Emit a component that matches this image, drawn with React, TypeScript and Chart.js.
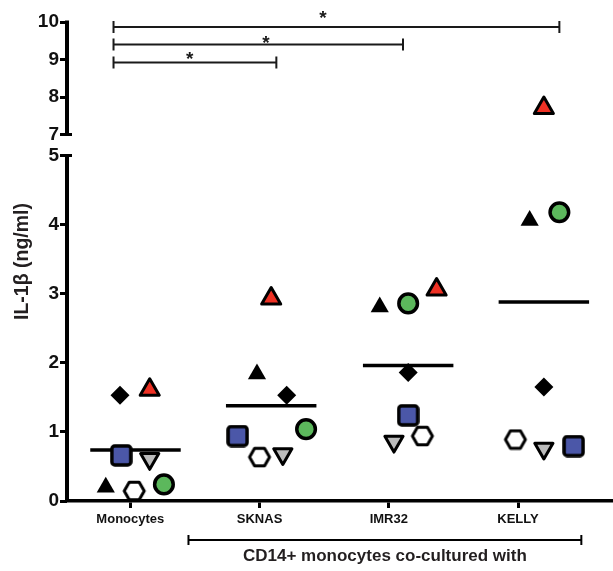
import React, { useEffect, useRef } from 'react';
import { Chart, registerables, LinearScale } from 'chart.js';

Chart.register(...registerables);

// ---------- data ----------
const categories = ['Monocytes', 'SKNAS', 'IMR32', 'KELLY'];
const yTickValues = [0, 1, 2, 3, 4, 5, 7, 8, 9, 10];
const yBreakLow = 5;
const yBreakHigh = 7;
const yMax = 10;

const blackTriangle = [0.2, 1.84, 2.81, 4.06];
const blackTriangleJitter = [-0.19, -0.02, -0.07, 0.09];
const blackDiamond = [1.53, 1.53, 1.86, 1.65];
const blackDiamondJitter = [-0.08, 0.21, 0.15, 0.2];
const redTriangle = [1.61, 2.93, 3.06, 7.71];
const redTriangleJitter = [0.15, 0.09, 0.37, 0.2];
const blueSquare = [0.66, 0.94, 1.24, 0.795];
const blueSquareJitter = [-0.07, -0.17, 0.15, 0.43];
const grayTriangleDown = [0.61, 0.68, 0.86, 0.76];
const grayTriangleDownJitter = [0.15, 0.18, 0.04, 0.2];
const openHexagon = [0.145, 0.636, 0.94, 0.89];
const openHexagonJitter = [0.03, 0.0, 0.26, -0.02];
const greenCircle = [0.24, 1.04, 2.86, 4.18];
const greenCircleJitter = [0.26, 0.36, 0.15, 0.32];

const means = [0.74, 1.38, 1.96, 2.88];
const meanCenterOffset = [0.04, 0.09, 0.15, 0.2];
const meanHalfWidth = 0.35;

const sigFrom = [-0.13, -0.13, -0.13];
const sigTo = [1.13, 2.11, 3.32];
const sigLevel = [8.92, 9.4, 9.87];
const sigStarX = [0.46, 1.05, 1.49];
const sigStarLevel = [9.1, 9.53, 10.19];
const sigLabels = ['*', '*', '*'];

const groupFrom = 0.45;
const groupTo = 3.49;
const groupLabel = 'CD14+ monocytes co-cultured with';
const yTitle = 'IL-1\u03b2 (ng/ml)';

// ---------- broken y scale ----------
const GAP_UNITS = 0.3035;
const UPPER_RATIO = 0.5434;
function compress(v: number): number {
  if (v <= yBreakLow) return v;
  if (v >= yBreakHigh) return yBreakLow + GAP_UNITS + (v - yBreakHigh) * UPPER_RATIO;
  return yBreakLow + ((v - yBreakLow) / (yBreakHigh - yBreakLow)) * GAP_UNITS;
}
function expand(c: number): number {
  if (c <= yBreakLow) return c;
  if (c >= yBreakLow + GAP_UNITS) return yBreakHigh + (c - yBreakLow - GAP_UNITS) / UPPER_RATIO;
  return yBreakLow + ((c - yBreakLow) / GAP_UNITS) * (yBreakHigh - yBreakLow);
}

class BrokenScale extends LinearScale {
  static id = 'brokenLinear';
  static defaults = (LinearScale as any).defaults;
  getPixelForValue(value: number) {
    const lo = compress((this as any).min);
    const hi = compress((this as any).max);
    return (this as any).getPixelForDecimal((compress(value) - lo) / (hi - lo));
  }
  getValueForPixel(pixel: number) {
    const lo = compress((this as any).min);
    const hi = compress((this as any).max);
    return expand(lo + (this as any).getDecimalForPixel(pixel) * (hi - lo));
  }
}
Chart.register(BrokenScale as any);

const FONT = '"Liberation Sans", Arial, Helvetica, sans-serif';

function makeCanvas(w: number, h: number, draw: (c: CanvasRenderingContext2D) => void) {
  const cv = document.createElement('canvas');
  cv.width = w;
  cv.height = h;
  const c = cv.getContext('2d')!;
  draw(c);
  return cv;
}

const overlayPlugin = {
  id: 'overlay',
  beforeDatasetsDraw(chart: any) {
    chart.ctx.save();
    chart.ctx.lineJoin = 'round';
  },
  afterDatasetsDraw(chart: any) {
    chart.ctx.restore();
  },
  afterDraw(chart: any) {
    const { ctx, chartArea } = chart;
    const x = chart.scales.x;
    const y = chart.scales.y;
    ctx.save();
    ctx.strokeStyle = '#000';
    ctx.lineCap = 'butt';
    const ax = chartArea.left;
    // broken y axis line
    ctx.lineWidth = 4;
    ctx.beginPath();
    ctx.moveTo(ax, chartArea.bottom + 1);
    ctx.lineTo(ax, y.getPixelForValue(yBreakLow) - 1.5);
    ctx.moveTo(ax, y.getPixelForValue(yBreakHigh) + 1.5);
    ctx.lineTo(ax, y.getPixelForValue(yMax) - 1.5);
    ctx.stroke();
    ctx.lineWidth = 3;
    ctx.beginPath();
    [yBreakLow, yBreakHigh].forEach((v) => {
      const py = y.getPixelForValue(v);
      ctx.moveTo(ax - 7, py);
      ctx.lineTo(ax + 5, py);
    });
    ctx.stroke();

    // significance brackets
    ctx.strokeStyle = '#1a1a1a';
    ctx.lineWidth = 2;
    ctx.fillStyle = '#1a1a1a';
    ctx.font = `bold 19px ${FONT}`;
    ctx.textAlign = 'center';
    ctx.textBaseline = 'middle';
    sigFrom.forEach((f, i) => {
      const xa = x.getPixelForValue(f);
      const xb = x.getPixelForValue(sigTo[i]);
      const py = y.getPixelForValue(sigLevel[i]);
      ctx.beginPath();
      ctx.moveTo(xa, py);
      ctx.lineTo(xb, py);
      ctx.moveTo(xa, py - 6);
      ctx.lineTo(xa, py + 6);
      ctx.moveTo(xb, py - 6);
      ctx.lineTo(xb, py + 6);
      ctx.stroke();
      ctx.fillText(sigLabels[i], x.getPixelForValue(sigStarX[i]), y.getPixelForValue(sigStarLevel[i]) + 4);
    });

    // group bracket under the axis
    const gy = chartArea.bottom + 39;
    const ga = x.getPixelForValue(groupFrom);
    const gb = x.getPixelForValue(groupTo);
    ctx.strokeStyle = '#000';
    ctx.lineWidth = 2;
    ctx.beginPath();
    ctx.moveTo(ga, gy);
    ctx.lineTo(gb, gy);
    ctx.moveTo(ga, gy - 5);
    ctx.lineTo(ga, gy + 5);
    ctx.moveTo(gb, gy - 5);
    ctx.lineTo(gb, gy + 5);
    ctx.stroke();
    ctx.fillStyle = '#231f20';
    ctx.font = `bold 17px ${FONT}`;
    ctx.fillText(groupLabel, (ga + gb) / 2, gy + 16);
    ctx.restore();
  },
};

export default function App() {
  const ref = useRef<HTMLCanvasElement | null>(null);

  useEffect(() => {
    if (!ref.current) return;

    const hexagon = makeCanvas(26, 22, (c) => {
      const R = 10;
      const cx = 13;
      const cy = 11;
      c.beginPath();
      for (let k = 0; k < 6; k++) {
        const a = (Math.PI / 3) * k;
        const px = cx + R * Math.cos(a);
        const py = cy + R * Math.sin(a);
        if (k === 0) c.moveTo(px, py);
        else c.lineTo(px, py);
      }
      c.closePath();
      c.fillStyle = '#ffffff';
      c.fill();
      c.lineWidth = 3;
      c.lineJoin = 'round';
      c.strokeStyle = '#000';
      c.stroke();
    });
    const roundedSquare = makeCanvas(23, 23, (c) => {
      c.beginPath();
      (c as any).roundRect(2, 2, 19, 19, 3);
      c.fillStyle = '#4b57a8';
      c.fill();
      c.lineWidth = 3.5;
      c.strokeStyle = '#000';
      c.stroke();
    });

    const pointSets = [
      { values: blackTriangle, jitter: blackTriangleJitter, style: 'triangle', r: 10.5, bg: '#000', bc: '#000', bw: 0, rot: 0 },
      { values: blackDiamond, jitter: blackDiamondJitter, style: 'rectRot', r: 9.5, bg: '#000', bc: '#000', bw: 0, rot: 0 },
      { values: redTriangle, jitter: redTriangleJitter, style: 'triangle', r: 11, bg: '#ee3124', bc: '#000', bw: 3, rot: 0 },
      { values: blueSquare, jitter: blueSquareJitter, style: roundedSquare, r: 10, bg: '#4b57a8', bc: '#000', bw: 0, rot: 0 },
      { values: grayTriangleDown, jitter: grayTriangleDownJitter, style: 'triangle', r: 10.5, bg: '#bcbcbc', bc: '#000', bw: 3, rot: 180 },
      { values: openHexagon, jitter: openHexagonJitter, style: hexagon, r: 10, bg: '#fff', bc: '#000', bw: 0, rot: 0 },
      { values: greenCircle, jitter: greenCircleJitter, style: 'circle', r: 9.3, bg: '#5cb85c', bc: '#000', bw: 3.5, rot: 0 },
    ];

    const datasets: any[] = [];
    means.forEach((m, i) => {
      const cx = i + meanCenterOffset[i];
      datasets.push({
        type: 'line',
        data: [
          { x: cx - meanHalfWidth, y: m },
          { x: cx + meanHalfWidth, y: m },
        ],
        borderColor: '#000',
        borderWidth: 3.5,
        pointRadius: 0,
        showLine: true,
        order: 10,
        clip: false,
      });
    });
    pointSets.forEach((s) => {
      datasets.push({
        type: 'scatter',
        data: s.values.map((v, i) => ({ x: i + s.jitter[i], y: v })),
        pointStyle: s.style,
        pointRadius: s.r,
        pointHoverRadius: s.r,
        pointBackgroundColor: s.bg,
        pointBorderColor: s.bc,
        pointBorderWidth: s.bw,
        pointRotation: s.rot,
        showLine: false,
        order: 0,
        clip: false,
      });
    });

    const chart = new Chart(ref.current, {
      type: 'scatter',
      data: { datasets },
      plugins: [overlayPlugin],
      options: {
        animation: false,
        responsive: true,
        maintainAspectRatio: false,
        layout: { autoPadding: false, padding: { top: 22, right: 0, bottom: 0, left: 0 } },
        plugins: { legend: { display: false }, tooltip: { enabled: false } },
        scales: {
          x: {
            type: 'linear',
            min: -0.49,
            max: 3.735,
            afterBuildTicks: (scale: any) => {
              scale.ticks = categories.map((_, i) => ({ value: i }));
            },
            afterFit: (scale: any) => {
              scale.height = 70;
              scale.paddingLeft = 0;
              scale.paddingRight = 0;
            },
            ticks: {
              autoSkip: false,
              maxRotation: 0,
              padding: 4,
              color: '#111',
              font: { family: FONT, size: 13, weight: 'bold' },
              callback: (v: any) => categories[v] ?? '',
            },
            grid: {
              drawOnChartArea: false,
              drawTicks: true,
              tickLength: 7,
              tickWidth: 3,
              tickColor: '#000',
            },
            border: { display: true, width: 3.5, color: '#000' },
          },
          y: {
            type: 'brokenLinear' as any,
            min: 0,
            max: yMax,
            afterBuildTicks: (scale: any) => {
              scale.ticks = yTickValues.map((v) => ({ value: v }));
            },
            afterFit: (scale: any) => {
              scale.width = 67;
              scale.paddingTop = 0;
              scale.paddingBottom = 0;
            },
            ticks: {
              autoSkip: false,
              padding: 1,
              color: '#111',
              font: { family: FONT, size: 19, weight: 'bold' },
              callback: (v: any) => String(v),
            },
            grid: {
              drawOnChartArea: false,
              drawTicks: true,
              tickLength: 7,
              tickWidth: 3,
              tickColor: '#000',
            },
            border: { display: false },
            title: {
              display: true,
              text: yTitle,
              color: '#231f20',
              font: { family: FONT, size: 19.5, weight: 'bold' },
              padding: { top: 11, bottom: 0 },
            },
          },
        },
      } as any,
    });
    return () => chart.destroy();
  }, []);

  return (
    <div style={{ position: 'absolute', left: 0, top: 0, width: 613, height: 571, overflow: 'hidden' }}>
      <canvas ref={ref} style={{ display: 'block', width: 613, height: 571 }} />
    </div>
  );
}
